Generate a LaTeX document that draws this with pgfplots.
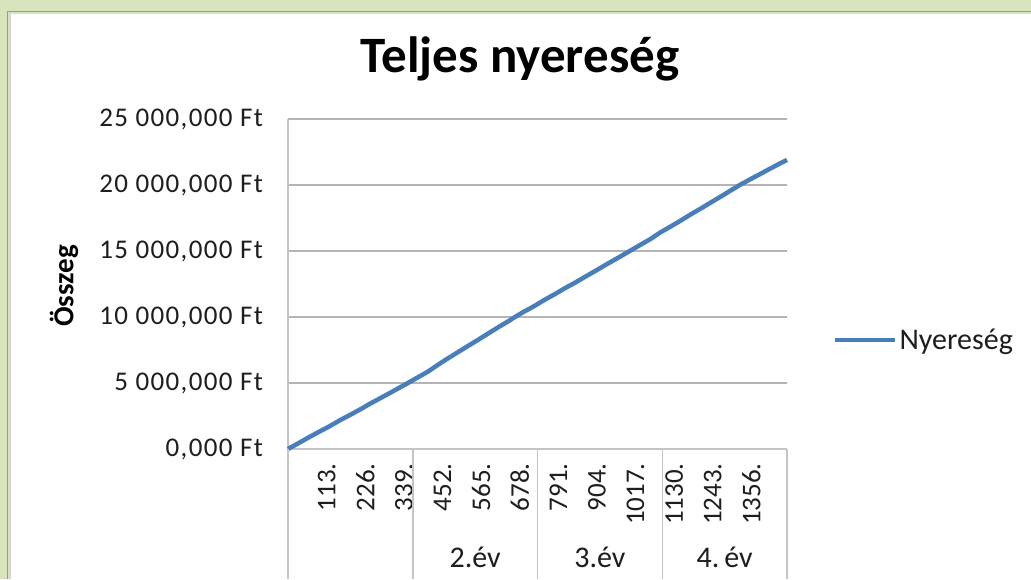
\documentclass[border=0pt]{standalone}
\usepackage{fontspec}
\setmainfont{Carlito}
\usepackage{pgfplots}
\pgfplotsset{compat=1.18}
\definecolor{bgGreen}{HTML}{D7E4BD}
\definecolor{lineBlue}{HTML}{4A7EBB}
\definecolor{gridGray}{HTML}{B4B4B4}
\definecolor{axGray}{HTML}{C4C4C4}
\definecolor{txt}{HTML}{1E1E1E}
\newcommand\fs[1]{\fontsize{#1}{#1}\selectfont}
\begin{document}
\begin{tikzpicture}[x=1pt,y=1pt]
\fill[bgGreen] (0,0) rectangle (1031,579);
\useasboundingbox (0,0) rectangle (1031,579);
\fill[white] (9,0) rectangle (1031,566);
\draw[gray!80, line width=1.2pt] (7.5,0) -- (7.5,567.5) -- (1031,567.5);
\draw[gray!30, line width=1.5pt] (10,0) -- (10,565.5) -- (1031,565.5);
\begin{axis}[
  at={(288pt,130pt)}, anchor=south west, scale only axis,
  width=499pt, height=330pt,
  xmin=0, xmax=1460, ymin=0, ymax=25000000,
  axis x line*=bottom, axis y line*=left,
  axis line style={draw=axGray, line width=1.5pt},
  xtick={113,226,339,452,565,678,791,904,1017,1130,1243,1356},
  xticklabels={113.,226.,339.,452.,565.,678.,791.,904.,1017.,1130.,1243.,1356.},
  ytick={0,5000000,10000000,15000000,20000000,25000000},
  yticklabels={{0,000 Ft},{5 000,000 Ft},{10 000,000 Ft},{15 000,000 Ft},{20 000,000 Ft},{25 000,000 Ft}},
  scaled y ticks=false,
  /pgf/number format/assume math mode=true,
  ymajorgrids, grid style={gridGray, line width=1.6pt},
  major tick length=0pt,
  yticklabel style={font=\fs{27}\addfontfeatures{LetterSpace=5}, text=txt, anchor=east, inner sep=0pt, xshift=-25pt},
  xticklabel style={font=\fs{27}, text=txt, yshift=-14pt, rotate=90, anchor=east, inner sep=0pt},
  clip=false,
  legend style={at={(1.092,0.33)}, anchor=west, draw=none, fill=none, inner sep=0pt,
    font=\fs{30}, text=txt, legend cell align=left},
  legend image code/.code={\draw[#1] (0pt,0pt) -- (60pt,0pt);},
]
\addplot[lineBlue, line width=4.5pt] coordinates {
(0,0) (30,430000) (60,870000) (90,1290000) (120,1700000) (150,2150000)
(180,2560000) (210,2980000) (240,3430000) (270,3850000) (300,4270000)
(330,4700000) (351,5000000) (380,5430000) (410,5870000) (440,6400000)
(470,6900000) (500,7380000) (530,7860000) (560,8330000) (590,8820000)
(620,9300000) (650,9760000) (664,10000000) (690,10400000) (720,10820000)
(750,11290000) (780,11720000) (810,12180000) (840,12600000) (870,13060000)
(900,13500000) (930,13960000) (960,14400000) (1000,15000000) (1030,15450000)
(1060,15900000) (1090,16420000) (1120,16860000) (1150,17320000) (1180,17800000)
(1210,18250000) (1240,18720000) (1270,19180000) (1300,19660000) (1322,20000000)
(1350,20400000) (1380,20810000) (1410,21230000) (1440,21640000) (1460,21900000)
};
\addlegendentry{Nyereség}
\draw[axGray, line width=1.5pt] (axis cs:0,0) -- ++(0pt,-130pt);
\draw[axGray, line width=1.5pt] (axis cs:365,0) -- ++(0pt,-130pt);
\draw[axGray, line width=1.5pt] (axis cs:730,0) -- ++(0pt,-130pt);
\draw[axGray, line width=1.5pt] (axis cs:1095,0) -- ++(0pt,-130pt);
\draw[axGray, line width=1.5pt] (axis cs:1460,0) -- ++(0pt,-130pt);
\node[anchor=base, font=\fs{30}, text=txt] at ([yshift=-118pt]axis cs:547.5,0) {2.év};
\node[anchor=base, font=\fs{30}, text=txt] at ([yshift=-118pt]axis cs:912.5,0) {3.év};
\node[anchor=base, font=\fs{30}, text=txt] at ([yshift=-118pt]axis cs:1277.5,0) {4.\,év};
\end{axis}
\node[anchor=base, font=\bfseries\fs{51}] at (520,506) {Teljes nyereség};
\node[rotate=90, font=\bfseries\fs{29}] at (64,293) {Összeg};
\end{tikzpicture}
\end{document}
